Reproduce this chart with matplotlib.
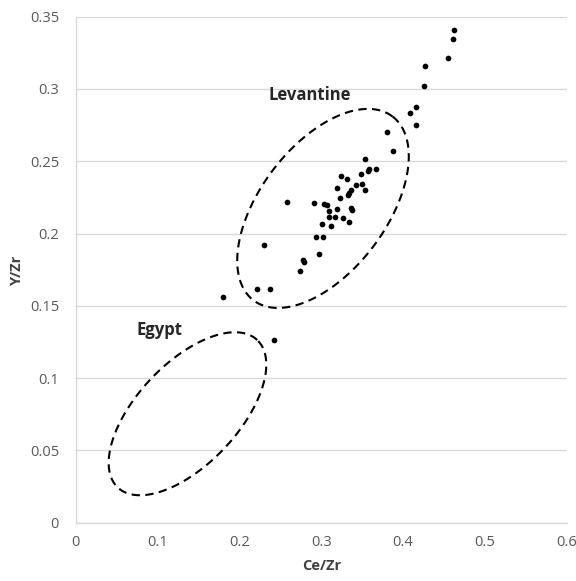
import numpy as np
import matplotlib
matplotlib.use("Agg")
import matplotlib.pyplot as plt

# Data (Ce/Zr, Y/Zr)
ce_zr = [0.4617, 0.4608, 0.4544, 0.4263, 0.4256, 0.4155, 0.4085, 0.4153, 0.3808, 0.3878,
         0.3535, 0.3670, 0.3584, 0.3566, 0.3490, 0.3240, 0.3312, 0.3502, 0.3422, 0.3533,
         0.3199, 0.3364, 0.3342, 0.3325, 0.3232, 0.2910, 0.3038, 0.3067, 0.3190, 0.3364,
         0.3373, 0.3098, 0.3095, 0.3163, 0.3267, 0.3336, 0.3006, 0.3124, 0.2934, 0.3016,
         0.2586, 0.2305, 0.2977, 0.2772, 0.2792, 0.2741, 0.2216, 0.2371, 0.1796, 0.2423]
y_zr = [0.3411, 0.3346, 0.3213, 0.3156, 0.3021, 0.2872, 0.2831, 0.2748, 0.2701, 0.2569,
        0.2519, 0.2450, 0.2449, 0.2436, 0.2412, 0.2398, 0.2380, 0.2341, 0.2334, 0.2300,
        0.2314, 0.2299, 0.2281, 0.2270, 0.2243, 0.2214, 0.2206, 0.2196, 0.2172, 0.2180,
        0.2165, 0.2156, 0.2113, 0.2115, 0.2109, 0.2082, 0.2068, 0.2053, 0.1975, 0.1978,
        0.2216, 0.1924, 0.1858, 0.1814, 0.1805, 0.1743, 0.1615, 0.1615, 0.1559, 0.1264]

# Field ellipses: center, conjugate semi-axis vectors (data units)
groups = ["Levantine", "Egypt"]
centers = [(0.3022, 0.2174), (0.1366, 0.0754)]
axis_u = [(0.0849, 0.0636), (0.0852, 0.0510)]
axis_v = [(-0.0615, 0.0263), (-0.0449, 0.0240)]
label_pos = [(0.286, 0.296), (0.102, 0.1333)]

x_ticks = [0, 0.1, 0.2, 0.3, 0.4, 0.5, 0.6]
x_tick_labels = ["0", "0.1", "0.2", "0.3", "0.4", "0.5", "0.6"]
y_ticks = [0, 0.05, 0.1, 0.15, 0.2, 0.25, 0.3, 0.35]
y_tick_labels = ["0", "0.05", "0.1", "0.15", "0.2", "0.25", "0.3", "0.35"]

plt.rcParams['font.family'] = ['Open Sans', 'DejaVu Sans']

fig = plt.figure(figsize=(5.76, 5.81), dpi=100)
ax = fig.add_axes([0.1314, 0.1002, 0.9839 - 0.1314, 0.9713 - 0.1002])

ax.set_xlim(0, 0.6)
ax.set_ylim(0, 0.35)
ax.set_xticks(x_ticks)
ax.set_xticklabels(x_tick_labels)
ax.set_yticks(y_ticks)
ax.set_yticklabels(y_tick_labels)
ax.tick_params(axis='both', length=0, labelsize=10.5, labelcolor='#595959')
ax.tick_params(axis='x', pad=9)
ax.tick_params(axis='y', pad=12)

ax.grid(axis='y', color='#d9d9d9', linewidth=1.0)
ax.set_axisbelow(True)
for s in ['top', 'right']:
    ax.spines[s].set_visible(False)
for s in ['left', 'bottom']:
    ax.spines[s].set_color('#d9d9d9')
    ax.spines[s].set_linewidth(1.0)

ax.scatter(ce_zr, y_zr, s=17, color='black', zorder=3, linewidths=0)

t = np.linspace(0, 2 * np.pi, 400)
for c, u, v, name, lp in zip(centers, axis_u, axis_v, groups, label_pos):
    ex = c[0] + u[0] * np.cos(t) + v[0] * np.sin(t)
    ey = c[1] + u[1] * np.cos(t) + v[1] * np.sin(t)
    ax.plot(ex, ey, color='black', linewidth=1.5, linestyle=(0, (4, 2.6)), zorder=2)
    ax.text(lp[0], lp[1], name, ha='center', va='center', fontsize=12,
            fontweight='bold', color='#262626')

ax.set_xlabel("Ce/Zr", fontsize=10.5, fontweight='bold', color='#404040', labelpad=6)
ax.set_ylabel("Y/Zr", fontsize=10.5, fontweight='bold', color='#404040', labelpad=4)

fig.savefig("out.png", dpi=100)
